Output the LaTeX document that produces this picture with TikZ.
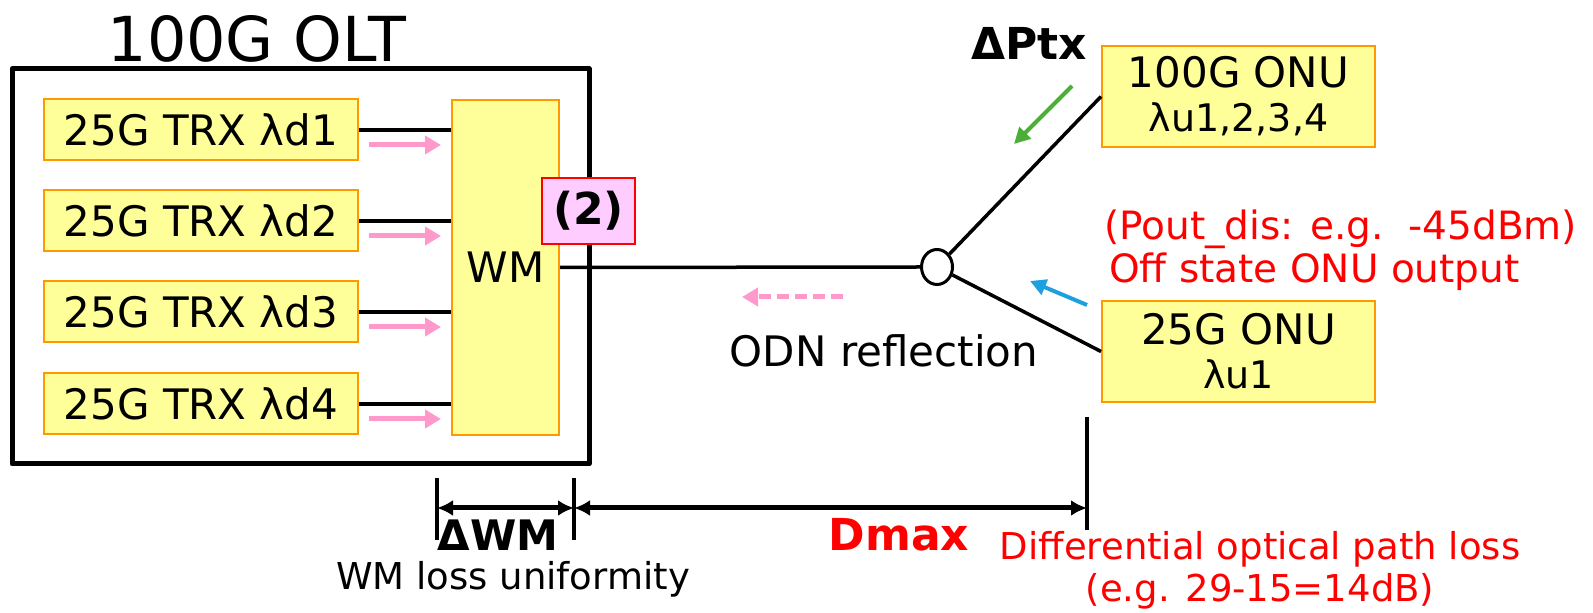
\documentclass[tikz,border=0pt]{standalone}
\usepackage{fontspec}
\setmainfont{DejaVu Sans}
\usepackage{tikz}
\usetikzlibrary{arrows.meta,positioning,shapes.geometric}
\definecolor{boxfill}{HTML}{FFFF99}
\definecolor{boxline}{HTML}{FF9900}
\definecolor{sigpink}{HTML}{FF99CC}
\definecolor{tagfill}{HTML}{FFCCFF}
\definecolor{ptxgreen}{HTML}{4AAE38}
\definecolor{ptxblue}{HTML}{1CA0E0}

\begin{document}
\begin{tikzpicture}[x=0.5pt,y=-0.5pt,
   blk/.style={draw=boxline,fill=boxfill,line width=1pt,inner sep=0pt,align=center},
   trx/.style={blk,minimum width=157pt,minimum height=30.5pt,font=\fontsize{21}{25}\selectfont},
   onu/.style={blk,minimum width=136.5pt,minimum height=50.5pt,font=\fontsize{21}{21}\selectfont},
   fiber/.style={line width=1.75pt},
   sig/.style={-{Triangle[length=8pt,width=9pt]},line width=2.5pt,sigpink},
   ptx/.style={-{Triangle[length=8pt,width=8pt]},line width=2pt},
   dim/.style={{Latex[length=8pt,width=8pt]}-{Latex[length=8pt,width=8pt]},line width=2.5pt},
   lab/.style={font=\fontsize{21}{25}\selectfont},
   note/.style={text=red,align=center}]
  \useasboundingbox (0,0) rectangle (1593,613);
  \node[lab,font=\fontsize{31}{36}\selectfont] (title) at (257,39) {100G OLT};
  \node[draw,line width=2.5pt,line join=round,minimum width=288.5pt,minimum height=197.5pt] (OLT) at (300.5,266.5) {};
  \foreach \i/\y in {1/130,2/221,3/312,4/404}
    \node[trx] (T\i) at (201,\y) {25G TRX λd\i};
  \node[blk,minimum width=53.5pt,minimum height=167.5pt,font=\fontsize{21}{25}\selectfont] (WM) at (505.5,267.5) {WM};
  \foreach \i in {1,...,4} {
    \draw[fiber] (T\i.east) -- (T\i.east -| WM.west);
    \draw[sig] ([shift={(10,15)}]T\i.east) -- ([shift={(-10,15)}]T\i.east -| WM.west);
  }
  \node[draw=red,fill=tagfill,line width=1pt,minimum width=46.5pt,minimum height=33pt,font=\bfseries\fontsize{22}{26}\selectfont] (tag) at (588.5,211) {(2)};
  \node[draw,ellipse,line width=1.5pt,minimum width=15.5pt,minimum height=17.5pt,inner sep=0pt] (S) at (937,267) {};
  \node[onu] (N100) at (1238.5,96.5) {100G ONU\\[1pt]{\fontsize{19}{21}\selectfont λu1,2,3,4}};
  \node[onu] (N25) at (1238.5,351.5) {25G ONU\\[1pt]{\fontsize{19}{21}\selectfont λu1}};
  \draw[fiber] (WM.east) -- (S.west);
  \draw[fiber] (S) -- (N100.west);
  \draw[fiber] (S) -- (N25.west);
  % upstream power
  \node[font=\bfseries\fontsize{22}{26}\selectfont] (dptx) at (1029,43) {ΔPtx};
  \draw[ptx,ptxgreen] (1072,86) -- (1014,144);
  \draw[ptx,ptxblue] (1087,305) -- (1030,281);
  \node[note,align=left,anchor=west,font=\fontsize{19.5}{21.5}\selectfont] (off) at (1097,250) {(Pout\_dis: e.g.\ \ -45dBm)\\[0pt]\hspace{2.5pt}Off state ONU output};
  % reflection
  \draw[sig,dash pattern=on 6pt off 3pt] (843,297) -- (742,297);
  \node[lab] (odn) at (884,351) {ODN reflection};
  % dimensions
  \coordinate (d1) at (437,508);
  \coordinate (d2) at (574,508);
  \coordinate (d3) at (1087,508);
  \draw[fiber] (437,478) -- (437,540);
  \draw[fiber] (574,478) -- (574,540);
  \draw[fiber] (1087,417) -- (1087,530);
  \draw[dim] (d1) -- (d2);
  \draw[dim] (d2) -- (d3);
  \node[font=\bfseries\fontsize{21}{25}\selectfont] (dwm) at (498,535) {ΔWM};
  \node[font=\fontsize{18.5}{22}\selectfont] (wml) at (513,579) {WM loss uniformity};
  \node[text=red,font=\bfseries\fontsize{22}{26}\selectfont] (dmax) at (899,535) {Dmax};
  \node[note,font=\fontsize{18.5}{21}\selectfont] (dopl) at (1260,570) {Differential optical path loss\\(e.g. 29-15=14dB)};
\end{tikzpicture}
\end{document}
